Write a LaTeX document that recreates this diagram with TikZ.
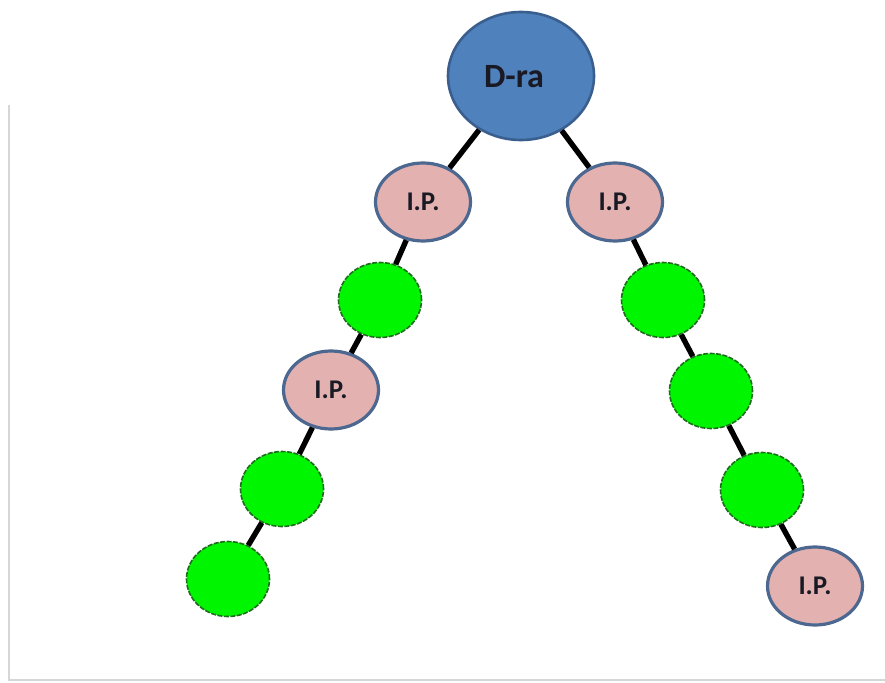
\documentclass[tikz,border=0pt]{standalone}
\usepackage{fontspec}
\setmainfont{Carlito}
\usetikzlibrary{shapes.geometric}
\definecolor{drafill}{HTML}{4F81BD}
\definecolor{draline}{HTML}{3A5F8E}
\definecolor{ipfill}{HTML}{E3B2B0}
\definecolor{ipline}{HTML}{4D6890}
\definecolor{gfill}{HTML}{00F500}
\definecolor{gline}{HTML}{1E6E1E}
\definecolor{txt}{HTML}{1A1A24}
\definecolor{frame}{HTML}{D6D6D6}
\definecolor{glow}{HTML}{86DCEA}
\begin{document}
\begin{tikzpicture}[x=1pt,y=-1pt,
  dranode/.style={ellipse, draw=draline, fill=drafill, line width=2.6pt, inner sep=0pt,
     minimum width=146pt, minimum height=128pt},
  ipnode/.style={ellipse, draw=ipline, fill=ipfill, line width=3.2pt, inner sep=0pt,
     minimum width=95pt, minimum height=78pt, text=txt, font=\bfseries\fontsize{27}{30}\selectfont},
  gnode/.style={ellipse, draw=gline, fill=gfill, line width=1.6pt, dash pattern=on 5pt off 1.5pt, inner sep=0pt,
     minimum width=83pt, minimum height=75pt},
  link/.style={draw=black, line width=5.4pt}]
\useasboundingbox (0,0) rectangle (885,682);
\fill[white] (0,0) rectangle (885,682);
\draw[frame, line width=1.8pt] (9,105) -- (9,680) -- (885,680);

\node[dranode] (dra) at (521,76) {};
\node[txt, font=\bfseries\fontsize{34}{37}\selectfont] (dratxt) at (514,77) {D-ra};

\node[ipnode] (ipL1) at (423,202) {I.P.};
\node[gnode]  (gL1)  at (380,300) {};
\node[ipnode] (ipL2) at (331,390) {I.P.};
\node[gnode]  (gL2)  at (282,489) {};
\node[gnode]  (gL3)  at (228,579) {};

\node[ipnode] (ipR1) at (615,202) {I.P.};
\node[gnode]  (gR1)  at (663,300) {};
\node[gnode]  (gR2)  at (711,391) {};
\node[gnode]  (gR3)  at (762,490) {};
\coordinate (glowc) at (815,586);
\draw[glow, line width=3.5pt] (glowc) ++(62:47.5pt and 40pt) arc[start angle=62, end angle=118, x radius=47.5pt, y radius=-41pt];
\node[ipnode] (ipR2) at (815,586) {I.P.};

\draw[link] (dra) -- (ipL1);
\draw[link] (dra) -- (ipR1);
\draw[link] (ipL1) -- (gL1);
\draw[link] (gL1) -- (ipL2);
\draw[link] (ipL2) -- (gL2);
\draw[link] (gL2) -- (gL3);
\draw[link] (ipR1) -- (gR1);
\draw[link] (gR1) -- (gR2);
\draw[link] (gR2) -- (gR3);
\draw[link] (gR3) -- (ipR2);
\end{tikzpicture}
\end{document}
